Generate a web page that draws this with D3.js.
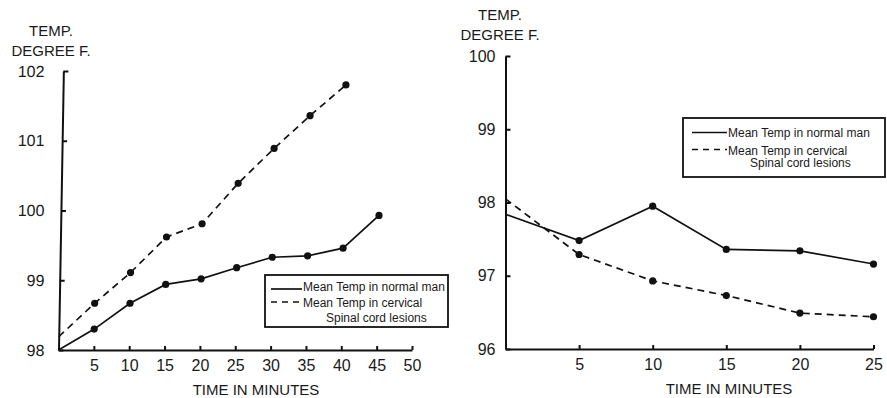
<!DOCTYPE html>
<html>
<head>
<meta charset="utf-8">
<script src="https://cdn.jsdelivr.net/npm/d3@7"></script>
<style>
  body { margin: 0; background: #fff; }
  svg { display: block; font-family: "Liberation Sans", Arial, Helvetica, sans-serif; }
  .axis path, .axis line { stroke: #111; stroke-width: 2; }
  .axis text { font-size: 16px; fill: #1a1a1a; font-family: "Liberation Sans", Arial, sans-serif; }
</style>
</head>
<body>
<svg id="chart" width="887" height="398"></svg>
<script>
// left panel: temperature rising (ambient heat)
const minutesLeft = [0, 5, 10, 15, 20, 25, 30, 35, 40, 45];
const normalLeft = [98.00, 98.30, 98.67, 98.94, 99.02, 99.18, 99.33, 99.35, 99.46, 99.93];
const minutesLeftCervical = [0, 5, 10, 15, 20, 25, 30, 35, 40];
const cervicalLeft = [98.19, 98.67, 99.11, 99.62, 99.81, 100.39, 100.89, 101.36, 101.80];
const xTicksLeft = [5, 10, 15, 20, 25, 30, 35, 40, 45, 50];
const yTicksLeft = [98, 99, 100, 101, 102];

// right panel: temperature falling (cold)
const minutesRight = [0, 5, 10, 15, 20, 25];
const normalRight = [97.84, 97.48, 97.95, 97.36, 97.34, 97.16];
const cervicalRight = [98.05, 97.29, 96.93, 96.73, 96.49, 96.44];
const xTicksRight = [5, 10, 15, 20, 25];
const yTicksRight = [96, 97, 98, 99, 100];

const yTitle = ['TEMP.', 'DEGREE F.'];
const xTitle = 'TIME IN MINUTES';
const legendLabels = ['Mean Temp in normal man', 'Mean Temp in cervical', 'Spinal cord lesions'];

const svg = d3.select('#chart');
const fmt = d3.format('d');

function drawPanel(p) {
    const x = d3.scaleLinear().domain(p.xDomain).range(p.xRange);
    const y = d3.scaleLinear().domain(p.yDomain).range(p.yRange);
    const base = p.yRange[0];
    const k = Math.tan(p.skew * Math.PI / 180);

    // slight tilt of the scanned original
    const g = svg.append('g')
        .attr('transform', `translate(0,${base}) skewX(${-p.skew}) translate(0,${-base})`);

    const series = [
        { t: p.normalT, v: p.normal, dash: null },
        { t: p.cervicalT, v: p.cervical, dash: '7,5' }
    ];

    const line = d3.line().x(d => x(d[0])).y(d => y(d[1]));

    series.forEach(s => {
        const pts = s.t.map((t, i) => [t, s.v[i]]);
        g.append('path')
            .attr('d', line(pts))
            .attr('fill', 'none')
            .attr('stroke', '#111')
            .attr('stroke-width', 1.7)
            .attr('stroke-dasharray', s.dash);
        g.selectAll(null)
            .data(pts.filter(d => d[0] > 0))
            .join('circle')
            .attr('cx', d => x(d[0]))
            .attr('cy', d => y(d[1]))
            .attr('r', 3.6)
            .attr('fill', '#111');
    });

    g.append('g')
        .attr('class', 'axis')
        .attr('transform', `translate(${p.xRange[0]},0)`)
        .call(d3.axisLeft(y).tickValues(p.yTicks).tickFormat(fmt)
            .tickSize(-5).tickSizeOuter(0).tickPadding(p.yPad))
        .call(a => a.selectAll('text').attr('x', d => -p.yPad - k * (base - y(d))));

    svg.append('g')
        .attr('class', 'axis')
        .attr('transform', `translate(0,${base})`)
        .call(d3.axisBottom(x).tickValues(p.xTicks).tickFormat(fmt)
            .tickSize(-4).tickSizeOuter(0).tickPadding(10));

    svg.append('text')
        .attr('x', p.xTitleX).attr('y', base + 45)
        .attr('text-anchor', 'middle')
        .attr('font-size', 15).attr('fill', '#1a1a1a')
        .text(xTitle);

    yTitle.forEach((t, i) => {
        svg.append('text')
            .attr('x', p.yTitleX).attr('y', p.yTitleY + i * 20)
            .attr('text-anchor', 'middle')
            .attr('font-size', 15).attr('fill', '#1a1a1a')
            .text(t);
    });

    // legend
    const L = p.legend;
    const lg = svg.append('g');
    lg.append('rect')
        .attr('x', L.x).attr('y', L.y).attr('width', L.w).attr('height', L.h)
        .attr('fill', '#fff').attr('stroke', '#111').attr('stroke-width', 1.8);
    lg.append('line')
        .attr('x1', L.lx0).attr('x2', L.lx1).attr('y1', L.ly[0]).attr('y2', L.ly[0])
        .attr('stroke', '#111').attr('stroke-width', 1.7);
    lg.append('line')
        .attr('x1', L.lx0).attr('x2', L.lx1).attr('y1', L.ly[1]).attr('y2', L.ly[1])
        .attr('stroke', '#111').attr('stroke-width', 1.7).attr('stroke-dasharray', '6,5');
    legendLabels.forEach((t, i) => {
        lg.append('text')
            .attr('x', i === 2 ? L.tx2 : L.tx)
            .attr('y', L.ty[i])
            .attr('font-size', 12).attr('fill', '#1a1a1a')
            .text(t);
    });
}

drawPanel({
    xDomain: [0, 50], xRange: [58.5, 412],
    yDomain: [98, 102], yRange: [350, 71],
    skew: 1, yPad: 14,
    normalT: minutesLeft, normal: normalLeft,
    cervicalT: minutesLeftCervical, cervical: cervicalLeft,
    xTicks: xTicksLeft, yTicks: yTicksLeft,
    xTitleX: 256, yTitleX: 51, yTitleY: 36,
    legend: { x: 265, y: 275, w: 183, h: 52, lx0: 271, lx1: 302, ly: [289, 302],
              tx: 303, tx2: 326, ty: [291, 307, 321.5] }
});

drawPanel({
    xDomain: [0, 25], xRange: [505.5, 873.5],
    yDomain: [96, 100], yRange: [349, 56],
    skew: 0, yPad: 10,
    normalT: minutesRight, normal: normalRight,
    cervicalT: minutesRight, cervical: cervicalRight,
    xTicks: xTicksRight, yTicks: yTicksRight,
    xTitleX: 729, yTitleX: 500, yTitleY: 20,
    legend: { x: 683, y: 118, w: 202, h: 59, lx0: 692, lx1: 727, ly: [132.5, 149.5],
              tx: 728, tx2: 750, ty: [137, 154.5, 167] }
});
</script>
</body>
</html>
